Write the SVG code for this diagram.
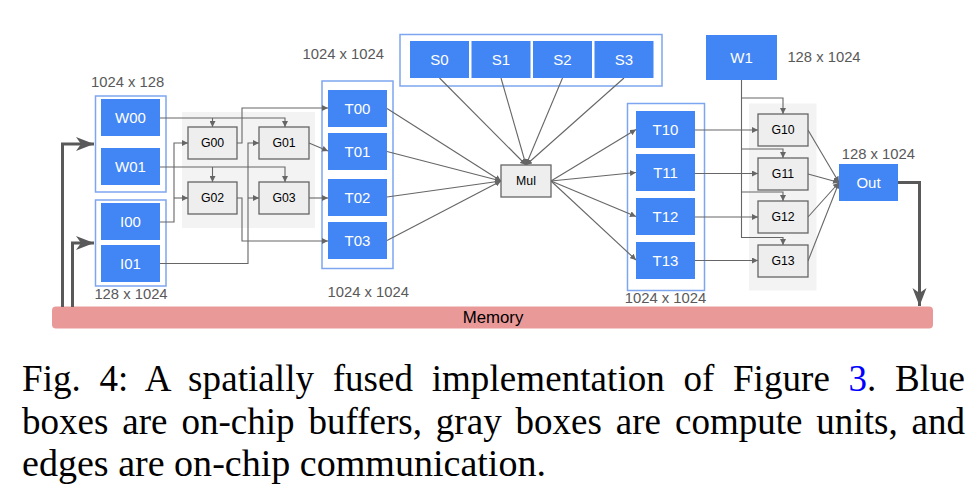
<svg xmlns="http://www.w3.org/2000/svg" width="978" height="504" viewBox="0 0 978 504">
<style>
.bg{fill:#ffffff}
.outer{fill:#ffffff;stroke:#7ea6f0;stroke-width:1.5}
.blue{fill:#4285f4}
.bl{font-family:"Liberation Sans",Arial,sans-serif;font-size:15px;fill:#ffffff;text-anchor:middle}
.gray{fill:#eeeeee;stroke:#666666;stroke-width:1.3}
.gl{font-family:"Liberation Sans",Arial,sans-serif;font-size:12.3px;fill:#000000;text-anchor:middle}
.area{fill:#f3f3f3}
.dim{font-family:"Liberation Sans",Arial,sans-serif;font-size:14.8px;fill:#595959;text-anchor:middle}
.thin{fill:none;stroke:#666666;stroke-width:1.1}
.thick{fill:none;stroke:#595959;stroke-width:3}
.cap{font-family:"Liberation Serif","Times New Roman",serif;font-size:37px;fill:#000000}
</style>
<defs>
<marker id="a" markerUnits="userSpaceOnUse" markerWidth="7" markerHeight="6" refX="6" refY="3" orient="auto">
<path d="M0,0 L6,3 L0,6 z" fill="#666666"/>
</marker>
<marker id="A" markerUnits="userSpaceOnUse" markerWidth="19" markerHeight="15" refX="18" refY="7" orient="auto">
<path d="M0,0 L18,7 L0,14 L5,7 z" fill="#595959"/>
</marker>
</defs>
<rect class="bg" x="0" y="0" width="978" height="504"/>

<g id="areas">
<rect class="area" x="182" y="112" width="133" height="116"/>
<rect class="area" x="749" y="103.5" width="67.5" height="187"/>
</g>

<g id="groups">
<rect id="Wgroup" class="outer" x="95.5" y="96" width="70.5" height="96"/>
<rect id="Igroup" class="outer" x="95.5" y="200" width="70.5" height="86"/>
<rect id="Tgroup" class="outer" x="322" y="81" width="71" height="187.5"/>
<rect id="Sgroup" class="outer" x="400" y="34.5" width="262" height="51.5"/>
<rect id="T1group" class="outer" x="627.5" y="103.5" width="77" height="187"/>
</g>

<g id="memory">
<rect x="52" y="306.5" width="881" height="22" rx="4" fill="#ea9999"/>
<text x="493" y="322.5" font-family="'Liberation Sans',Arial,sans-serif" font-size="16.8" fill="#000000" text-anchor="middle">Memory</text>
</g>

<g id="connectors">
<path class="thin" d="M160,118 H285 V127" marker-end="url(#a)"/>
<path class="thin" d="M212.5,118 V127" marker-end="url(#a)"/>
<path class="thin" d="M160,167 H285 V182" marker-end="url(#a)"/>
<path class="thin" d="M212.5,167 V182" marker-end="url(#a)"/>
<path class="thin" d="M160,222 H174 V143 H188" marker-end="url(#a)"/>
<path class="thin" d="M174,198 H188" marker-end="url(#a)"/>
<path class="thin" d="M160,263.5 H248 V143 H259" marker-end="url(#a)"/>
<path class="thin" d="M248,198 H259" marker-end="url(#a)"/>
<path class="thin" d="M237,143 H242 V108 H328" marker-end="url(#a)"/>
<path class="thin" d="M309,143 L328,151" marker-end="url(#a)"/>
<path class="thin" d="M309,198 H328" marker-end="url(#a)"/>
<path class="thin" d="M237,198 H242 V241 H328" marker-end="url(#a)"/>
<path class="thin" d="M439.5,78 L526,165" marker-end="url(#a)"/>
<path class="thin" d="M501,78 L526,165" marker-end="url(#a)"/>
<path class="thin" d="M562.5,78 L526,165" marker-end="url(#a)"/>
<path class="thin" d="M624,78 L526,165" marker-end="url(#a)"/>
<path class="thin" d="M387,108.5 L501,181" marker-end="url(#a)"/>
<path class="thin" d="M387,151.5 L501,181" marker-end="url(#a)"/>
<path class="thin" d="M387,197 L501,181" marker-end="url(#a)"/>
<path class="thin" d="M387,240.5 L501,181" marker-end="url(#a)"/>
<path class="thin" d="M551,181 L636,129.5" marker-end="url(#a)"/>
<path class="thin" d="M551,181 L636,172.5" marker-end="url(#a)"/>
<path class="thin" d="M551,181 L636,216.5" marker-end="url(#a)"/>
<path class="thin" d="M551,181 L636,260" marker-end="url(#a)"/>
<path class="thin" d="M695,130 H758" marker-end="url(#a)"/>
<path class="thin" d="M695,173.5 H758" marker-end="url(#a)"/>
<path class="thin" d="M695,217 H758" marker-end="url(#a)"/>
<path class="thin" d="M695,260.5 H758" marker-end="url(#a)"/>
<path class="thin" d="M741.5,80 V237.5 H783 V245" marker-end="url(#a)"/>
<path class="thin" d="M741.5,98 H783 V114" marker-end="url(#a)"/>
<path class="thin" d="M741.5,149 H783 V158" marker-end="url(#a)"/>
<path class="thin" d="M741.5,192 H783 V201" marker-end="url(#a)"/>
<path class="thin" d="M808,130 L839,182.5" marker-end="url(#a)"/>
<path class="thin" d="M808,174 L839,182.5" marker-end="url(#a)"/>
<path class="thin" d="M808,217 L839,182.5" marker-end="url(#a)"/>
<path class="thin" d="M808,261 L839,182.5" marker-end="url(#a)"/>
<path class="thick" d="M62.5,307 V144 H94" marker-end="url(#A)"/>
<path class="thick" d="M72.5,307 V243 H94" marker-end="url(#A)"/>
<path class="thick" d="M898,182.5 H919.5 V306" marker-end="url(#A)"/>
</g>

<g id="W00"><rect class="blue" x="101" y="99" width="59" height="37"/><text class="bl" x="130.5" y="122.8">W00</text></g>
<g id="W01"><rect class="blue" x="101" y="148" width="59" height="37"/><text class="bl" x="130.5" y="171.8">W01</text></g>
<g id="I00"><rect class="blue" x="101" y="203" width="59" height="37"/><text class="bl" x="130.5" y="226.8">I00</text></g>
<g id="I01"><rect class="blue" x="101" y="245" width="59" height="37"/><text class="bl" x="130.5" y="268.8">I01</text></g>
<g id="T00"><rect class="blue" x="328" y="90" width="59" height="37"/><text class="bl" x="357.5" y="113.8">T00</text></g>
<g id="T01"><rect class="blue" x="328" y="133" width="59" height="37"/><text class="bl" x="357.5" y="156.8">T01</text></g>
<g id="T02"><rect class="blue" x="328" y="179" width="59" height="37"/><text class="bl" x="357.5" y="202.8">T02</text></g>
<g id="T03"><rect class="blue" x="328" y="222" width="59" height="37"/><text class="bl" x="357.5" y="245.8">T03</text></g>
<g id="S0"><rect class="blue" x="410" y="41" width="59" height="37"/><text class="bl" x="439.5" y="64.8">S0</text></g>
<g id="S1"><rect class="blue" x="471.5" y="41" width="59" height="37"/><text class="bl" x="501" y="64.8">S1</text></g>
<g id="S2"><rect class="blue" x="533" y="41" width="59" height="37"/><text class="bl" x="562.5" y="64.8">S2</text></g>
<g id="S3"><rect class="blue" x="594.5" y="41" width="59" height="37"/><text class="bl" x="624" y="64.8">S3</text></g>
<g id="T10"><rect class="blue" x="636" y="111" width="59" height="37"/><text class="bl" x="665.5" y="134.8">T10</text></g>
<g id="T11"><rect class="blue" x="636" y="154" width="59" height="37"/><text class="bl" x="665.5" y="177.8">T11</text></g>
<g id="T12"><rect class="blue" x="636" y="198" width="59" height="37"/><text class="bl" x="665.5" y="221.8">T12</text></g>
<g id="T13"><rect class="blue" x="636" y="242" width="59" height="37"/><text class="bl" x="665.5" y="265.8">T13</text></g>
<g id="W1"><rect class="blue" x="706" y="35" width="71" height="45"/><text class="bl" x="741.5" y="62.8">W1</text></g>
<g id="Out"><rect class="blue" x="839" y="164" width="59" height="37"/><text class="bl" x="868.5" y="187.8">Out</text></g>

<g id="G00"><rect class="gray" x="188" y="127" width="49" height="32"/><text class="gl" x="212.5" y="147.4">G00</text></g>
<g id="G01"><rect class="gray" x="259" y="127" width="50" height="32"/><text class="gl" x="284" y="147.4">G01</text></g>
<g id="G02"><rect class="gray" x="188" y="182" width="49" height="32"/><text class="gl" x="212.5" y="202.4">G02</text></g>
<g id="G03"><rect class="gray" x="259" y="182" width="50" height="32"/><text class="gl" x="284" y="202.4">G03</text></g>
<g id="Mul"><rect class="gray" x="501" y="165" width="50" height="32"/><text class="gl" x="526" y="185.4">Mul</text></g>
<g id="G10"><rect class="gray" x="758" y="114" width="50" height="32"/><text class="gl" x="783" y="134.4">G10</text></g>
<g id="G11"><rect class="gray" x="758" y="158" width="50" height="32"/><text class="gl" x="783" y="178.4">G11</text></g>
<g id="G12"><rect class="gray" x="758" y="201" width="50" height="32"/><text class="gl" x="783" y="221.4">G12</text></g>
<g id="G13"><rect class="gray" x="758" y="245" width="50" height="32"/><text class="gl" x="783" y="265.4">G13</text></g>

<g id="dims">
<text class="dim" x="127.7" y="86.5">1024 x 128</text>
<text class="dim" x="131" y="299.3">128 x 1024</text>
<text class="dim" x="343.3" y="59">1024 x 1024</text>
<text class="dim" x="368.3" y="296.7">1024 x 1024</text>
<text class="dim" x="665.5" y="302.5">1024 x 1024</text>
<text class="dim" x="824" y="61.5">128 x 1024</text>
<text class="dim" x="878.3" y="159.3">128 x 1024</text>
</g>

<g id="caption">
<text class="cap" x="22" y="391" word-spacing="9.2" textLength="943" lengthAdjust="spacing">Fig. 4: A spatially fused implementation of Figure <tspan fill="#0000ff">3</tspan>. Blue</text>
<text class="cap" x="22" y="433.5" word-spacing="4.6" textLength="943" lengthAdjust="spacing">boxes are on-chip buffers, gray boxes are compute units, and</text>
<text class="cap" x="22" y="476" textLength="524" lengthAdjust="spacingAndGlyphs">edges are on-chip communication.</text>
</g>
</svg>
